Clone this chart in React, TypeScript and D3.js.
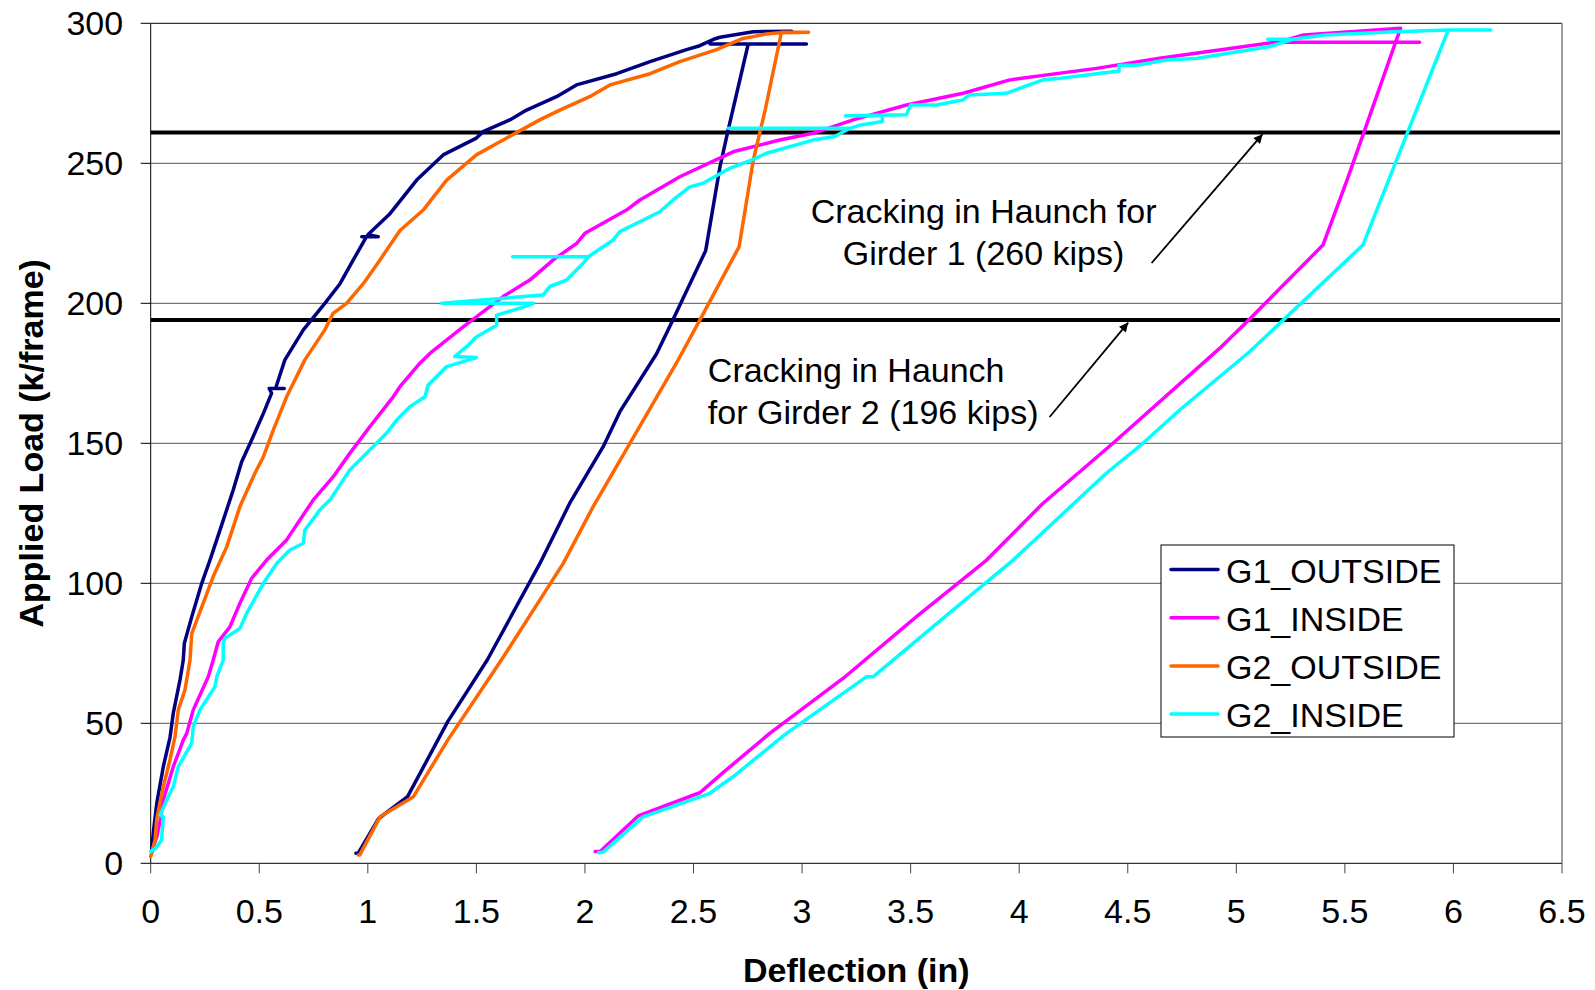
import React from "react";
import * as d3 from "d3";

type Pt = [number, number] | null;

// deflection (in), load (k/frame); null = break in the trace
const g1Outside: Pt[] = [
  [0.005, 5.5], [0.015, 13], [0.028, 21.5], [0.058, 34.5], [0.089, 45], [0.104, 53.6],
  [0.135, 65.5], [0.15, 72.6], [0.155, 78.6], [0.189, 88], [0.235, 100], [0.273, 108.3],
  [0.319, 119], [0.38, 133.3], [0.419, 143.4], [0.465, 151.2], [0.519, 160.7], [0.557, 167.9],
  [0.546, 169.6], [0.615, 169.6], [0.575, 169.6], [0.618, 179.8], [0.703, 190.5], [0.802, 200],
  [0.872, 207], [0.933, 215.5], [0.994, 223.8], [0.972, 223.8], [1.048, 223.8], [1.0, 224.5],
  [1.102, 232], [1.148, 236.5], [1.225, 244], [1.347, 253], [1.5, 259], [1.531, 261.3],
  [1.654, 265.5], [1.731, 269], [1.869, 273.8], [1.961, 278], [2.146, 282], [2.3, 286.3],
  [2.468, 290.6], [2.529, 292], [2.6, 294.5], [2.622, 295], [2.775, 297], [2.952, 297.2],
  null,
  [2.576, 292.6], [3.02, 292.6], [2.752, 292.6], [2.66, 262], [2.622, 248.8], [2.556, 218.8],
  [2.39, 191.6], [2.33, 182], [2.161, 161.3], [2.084, 148.8], [1.93, 128.6], [1.792, 107],
  [1.55, 72.6], [1.368, 50.6], [1.183, 23.8], [1.05, 16], [0.956, 3.6], [0.945, 3.6],
];

const g1Inside: Pt[] = [
  [0.005, 4], [0.03, 10], [0.045, 16], [0.058, 22.6], [0.104, 34.5], [0.15, 44], [0.166, 46.4],
  [0.196, 54.8], [0.265, 66.6], [0.288, 72.6], [0.311, 79.1], [0.365, 84.5], [0.411, 92.9],
  [0.465, 101.8], [0.534, 108.3], [0.626, 115.5], [0.749, 129.8], [0.84, 138], [0.917, 146.4],
  [1.009, 155.9], [1.117, 166.6], [1.148, 170.2], [1.24, 178.6], [1.286, 182.1], [1.439, 191.6],
  [1.623, 202.4], [1.746, 208.3], [1.854, 215.5], [1.962, 221.4], [2.0, 225], [2.191, 233.3],
  [2.253, 236.9], [2.437, 245.2], [2.682, 254.1], [2.897, 258.3], [3.05, 260.7], [3.235, 265.5],
  [3.481, 270.8], [3.742, 275], [3.957, 279.8], [4.356, 283.9], [4.647, 287.5], [5.153, 293],
  [5.19, 293.2], [5.844, 293.2],
  null,
  [5.19, 293.2], [5.31, 295.8], [5.757, 298.2], [5.737, 294], [5.586, 260.7], [5.51, 244],
  [5.399, 220.8], [5.057, 194], [4.923, 183.9], [4.432, 150], [4.11, 128.6], [3.85, 108.3],
  [3.527, 88.1], [3.19, 66.1], [2.851, 46.4], [2.636, 32.4], [2.529, 25.2], [2.245, 16.9],
  [2.07, 4.2], [2.047, 4.2],
];

const g2Outside: Pt[] = [
  [0.0, 2.4], [0.02, 8.3], [0.028, 16], [0.058, 27.4], [0.089, 37], [0.112, 45.2], [0.127, 54.8],
  [0.158, 62], [0.181, 72.6], [0.189, 82], [0.242, 92.9], [0.288, 102.4], [0.35, 113],
  [0.411, 127.4], [0.48, 139.3], [0.519, 145.2], [0.565, 154.8], [0.626, 166.6], [0.71, 179.8],
  [0.802, 190.5], [0.84, 196.4], [0.902, 200], [0.979, 207], [1.056, 215.5], [1.148, 226],
  [1.255, 233.3], [1.363, 244], [1.5, 253], [1.623, 258.3], [1.792, 265.5], [1.884, 269],
  [2.022, 273.8], [2.115, 278], [2.3, 282], [2.437, 286.3], [2.606, 290.6], [2.728, 294.6],
  [2.836, 296.2], [2.897, 296.6], [3.03, 296.8], [2.905, 296.8], [2.83, 269], [2.775, 251],
  [2.71, 220.2], [2.529, 194], [2.421, 178.6], [2.207, 150], [2.038, 127.4], [1.9, 107.1],
  [1.615, 72.6], [1.368, 44], [1.21, 23.8], [1.056, 16.6], [0.963, 3], [0.956, 3],
];

const g2Inside: Pt[] = [
  [0.0, 4.2], [0.028, 5.9], [0.05, 8.3], [0.058, 16.6], [0.043, 17.2], [0.074, 22.6],
  [0.104, 27.4], [0.127, 34.5], [0.189, 42.9], [0.196, 48.8], [0.227, 54.8], [0.296, 63.1],
  [0.304, 66.6], [0.334, 72.6], [0.334, 78.6], [0.342, 80.4], [0.411, 83.9], [0.442, 89.3],
  [0.519, 100], [0.58, 107.1], [0.641, 111.9], [0.703, 114.3], [0.71, 119], [0.779, 126.2],
  [0.826, 129.8], [0.917, 140.5], [0.948, 142.9], [1.04, 150], [1.086, 153.6], [1.133, 158.3],
  [1.194, 163.1], [1.263, 166.6], [1.278, 170.8], [1.363, 177.4], [1.5, 180.6], [1.4, 181],
  [1.455, 184.5], [1.5, 188], [1.593, 192.2], [1.593, 195.8], [1.716, 198.6], [1.762, 200],
  [1.34, 200], [1.808, 203], [1.838, 206], [1.915, 208.3], [1.992, 214.3], [2.015, 216.6],
  [1.667, 216.6], [2.015, 216.6], [2.13, 222.6], [2.161, 225.6], [2.345, 232.7], [2.406, 236.9],
  [2.483, 241.6], [2.544, 242.9], [2.667, 248.2], [2.775, 251.4], [2.836, 253.6], [3.05, 258.3],
  [3.15, 259.6], [3.22, 262.5], [2.66, 262.5], [3.22, 262.5], [3.27, 263.7], [3.37, 264.9],
  [3.37, 267], [3.2, 267], [3.48, 267.3], [3.5, 270.8], [3.62, 270.8], [3.74, 272.6],
  [3.77, 274.4], [3.94, 275], [4.11, 279.8], [4.19, 280.4], [4.46, 283], [4.46, 285],
  [4.54, 285], [4.68, 286.9], [4.82, 287.5], [5.15, 291.6], [5.26, 294.3], [5.145, 294.3],
  [5.26, 294.3], [5.41, 295.8], [5.735, 297], [5.976, 297.6], [6.172, 297.6], [5.976, 297.6],
  [5.787, 260.7], [5.732, 250], [5.583, 220.8], [5.061, 182.7], [4.739, 161.9], [4.57, 150],
  [4.401, 139.3], [3.972, 108.3], [3.649, 87.5], [3.327, 66.6], [3.296, 66.6], [2.928, 46.4],
  [2.682, 30.9], [2.575, 25], [2.268, 16.6], [2.084, 4], [2.063, 3.8],
];

const seriesNames = ["G1_OUTSIDE", "G1_INSIDE", "G2_OUTSIDE", "G2_INSIDE"];
const seriesColors = ["#000080", "#FF00FF", "#FF6600", "#00FFFF"];
const seriesData = [g1Outside, g1Inside, g2Outside, g2Inside];

const xTicks = [0, 0.5, 1, 1.5, 2, 2.5, 3, 3.5, 4, 4.5, 5, 5.5, 6, 6.5];
const yTicks = [0, 50, 100, 150, 200, 250, 300];

const crackLoads = [261, 194];
const notes = [
  { lines: ["Cracking in Haunch for", "Girder 1 (260 kips)"], at: [3.836, 228.8], anchor: "middle", from: [4.61, 214.4], to: [5.121, 260.4] },
  { lines: ["Cracking in Haunch", "for Girder 2 (196 kips)"], at: [2.566, 172], anchor: "start", from: [4.14, 159.4], to: [4.502, 193.1] },
];

const W = 1595;
const H = 990;
const font = "'Liberation Sans', Arial, Helvetica, sans-serif";

export default function App() {
  const x = d3.scaleLinear().domain([0, 6.5]).range([150.7, 1562]);
  const y = d3.scaleLinear().domain([0, 300]).range([863.3, 23.3]);
  const [x0, x1] = x.range();
  const [y0, y1] = y.range();

  const line = d3
    .line<Pt>()
    .defined((d) => d != null)
    .x((d) => x((d as [number, number])[0]))
    .y((d) => y((d as [number, number])[1]));

  const legX = 1161;
  const legY = 545;

  return (
    <svg
      width={W}
      height={H}
      style={{ position: "absolute", left: 0, top: 0, background: "#fff" }}
      fontFamily={font}
    >
      <defs>
        <marker id="arr" viewBox="0 0 10 10" refX="10" refY="5" markerWidth="10" markerHeight="9" orient="auto" markerUnits="userSpaceOnUse">
          <path d="M0,0 L10,5 L0,10 z" fill="#000" />
        </marker>
      </defs>

      {/* grid */}
      {yTicks.filter((t) => t > 0).map((t) => (
        <line key={t} x1={x0} x2={x1} y1={y(t)} y2={y(t)} stroke={t === 300 ? "#000" : "#555"} strokeWidth={1} />
      ))}
      <line x1={x1} x2={x1} y1={y1} y2={y0} stroke="#808080" strokeWidth={1.5} />

      {/* axes */}
      <line x1={x0} x2={x0} y1={y1} y2={y0} stroke="#000" strokeWidth={1} />
      <line x1={x0} x2={x1} y1={y0} y2={y0} stroke="#000" strokeWidth={1} />
      {yTicks.map((t) => (
        <g key={t}>
          <line x1={x0 - 10} x2={x0} y1={y(t)} y2={y(t)} stroke="#000" />
          <text x={x0 - 27.5} y={y(t) + 12} textAnchor="end" fontSize={34}>{t}</text>
        </g>
      ))}
      {xTicks.map((t) => (
        <g key={t}>
          <line x1={x(t)} x2={x(t)} y1={y0} y2={y0 + 10} stroke="#444" />
          <text x={x(t)} y={y0 + 60} textAnchor="middle" fontSize={34}>{t}</text>
        </g>
      ))}
      <text x={(x0 + x1) / 2} y={982} textAnchor="middle" fontSize={34} fontWeight="bold">Deflection (in)</text>
      <text transform={`translate(43,${(y0 + y1) / 2}) rotate(-90)`} textAnchor="middle" fontSize={34} fontWeight="bold">Applied Load (k/frame)</text>

      {/* cracking loads */}
      {crackLoads.map((c) => (
        <line key={c} x1={x0} x2={x1 - 2} y1={y(c)} y2={y(c)} stroke="#000" strokeWidth={4} />
      ))}

      {/* series */}
      {seriesData.map((d, i) => (
        <path key={i} d={line(d) || ""} fill="none" stroke={seriesColors[i]} strokeWidth={3.5} strokeLinejoin="round" strokeLinecap="round" />
      ))}

      {/* annotations */}
      {notes.map((n, i) => (
        <g key={i}>
          <text x={x(n.at[0])} y={y(n.at[1])} textAnchor={n.anchor as any} fontSize={34}>
            {n.lines.map((l, j) => (
              <tspan key={j} x={x(n.at[0])} dy={j === 0 ? 0 : 42}>{l}</tspan>
            ))}
          </text>
          <line x1={x(n.from[0])} y1={y(n.from[1])} x2={x(n.to[0])} y2={y(n.to[1])} stroke="#000" strokeWidth={1.8} markerEnd="url(#arr)" />
        </g>
      ))}

      {/* legend */}
      <rect x={legX} y={legY} width={293} height={192} fill="#fff" stroke="#000" strokeWidth={1} />
      {seriesNames.map((s, i) => {
        const cy = legY + 24.5 + i * 48.2;
        return (
          <g key={s}>
            <line x1={legX + 10} x2={legX + 57} y1={cy} y2={cy} stroke={seriesColors[i]} strokeWidth={3.5} strokeLinecap="round" />
            <text x={legX + 65} y={cy + 13} fontSize={34}>{s}</text>
          </g>
        );
      })}
    </svg>
  );
}
